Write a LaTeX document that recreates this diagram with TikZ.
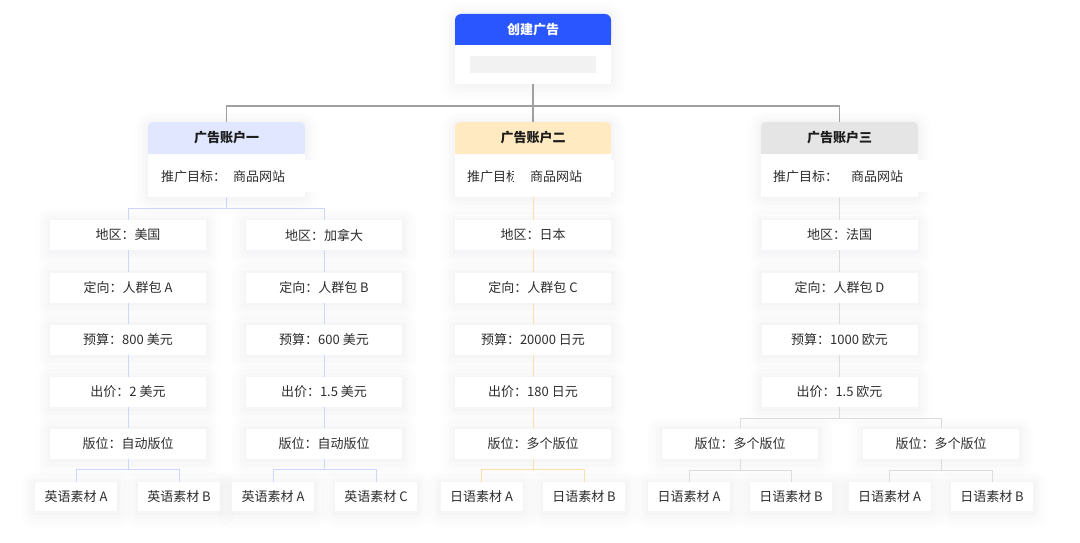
\documentclass[tikz,border=0pt]{standalone}
\usepackage{fontspec}
\setmainfont{Noto Sans CJK SC}
\definecolor{topblue}{RGB}{42,86,255}
\definecolor{hdA}{RGB}{224,231,255}
\definecolor{hdB}{RGB}{255,234,193}
\definecolor{hdC}{RGB}{229,229,229}
\definecolor{lnTop}{RGB}{160,160,160}
\definecolor{lnA}{RGB}{205,215,252}
\definecolor{lnB}{RGB}{252,224,172}
\definecolor{lnC}{RGB}{220,220,220}
\definecolor{txt}{RGB}{45,45,45}
\definecolor{hdtxt}{RGB}{28,28,28}
\definecolor{bar}{RGB}{242,242,242}
\definecolor{shd}{RGB}{40,40,90}
\begin{document}
\begin{tikzpicture}[x=1pt,y=-1pt,
  shad/.style={
    preaction={draw=shd, draw opacity=0.008, line width=28pt, line join=round, transform canvas={yshift=-3pt}},
    preaction={draw=shd, draw opacity=0.009, line width=20pt, line join=round, transform canvas={yshift=-2pt}},
    preaction={draw=shd, draw opacity=0.011, line width=12pt, line join=round, transform canvas={yshift=-2pt}},
    preaction={draw=shd, draw opacity=0.012, line width=5pt, line join=round, transform canvas={yshift=-1pt}}},
  card/.style={rectangle, fill=white, inner sep=0pt, minimum width=156pt, minimum height=30pt,
    font=\fontsize{13}{15}\selectfont, text=txt, shad},
  leaf/.style={card, minimum width=82pt, minimum height=29pt},
  hdr/.style={rectangle, inner sep=0pt, minimum width=157pt, minimum height=32pt, rounded corners=5pt,
    font=\fontsize{13}{15}\selectfont\bfseries, text=hdtxt},
  body/.style={rectangle, fill=white, inner sep=0pt, minimum width=157pt, minimum height=42pt},
  btxt/.style={anchor=west, inner sep=0pt, font=\fontsize{13}{15}\selectfont, text=txt},
  cardbg/.style={fill=white, rounded corners=5pt, shad},
  ltop/.style={draw=lnTop, line width=1.1pt},
  lA/.style={draw=lnA, line width=1pt},
  lB/.style={draw=lnB, line width=1pt},
  lC/.style={draw=lnC, line width=1pt}
]
\useasboundingbox[fill=white] (0,0) rectangle (1080,543);

% ---------- top card ----------
\path[cardbg, rounded corners=6pt] (455,14) rectangle (611,84);
\node[hdr, fill=topblue, text=white, minimum width=156pt, minimum height=31pt, rounded corners=6pt] (toph) at (533,29.5) {创建广告};
\fill[topblue] (toph.west) rectangle (toph.south east);
\node[hdr, fill=topblue, text=white, rounded corners=0pt, minimum height=0pt, minimum width=0pt] at (toph) {创建广告};
\node[body, minimum width=156pt, minimum height=39pt] (topb) at (533,64.5) {};
\node[rectangle, fill=bar, inner sep=0pt, minimum width=126pt, minimum height=17pt] (topbar) at (533,64.5) {};

% ---------- account cards ----------
% account 1
\path[cardbg] (148,122) rectangle (305,197);
\node[hdr, fill=hdA] (a1h) at (226.5,138) {广告账户一};
\fill[hdA] (a1h.west) rectangle (a1h.south east);
\node[hdr, fill=hdA, rounded corners=0pt, minimum height=0pt, minimum width=0pt] at (a1h) {广告账户一};
\node[body] (a1b) at (226.5,176) {};
\fill[white] (305,160) rectangle (318,192);
\node[btxt] (a1t) at (161,177) {推广目标：};
\node[btxt] (a1v) at (233,177) {商品网站};

% account 2
\path[cardbg] (455,122) rectangle (611,197);
\node[hdr, fill=hdB, minimum width=156pt] (a2h) at (533,138) {广告账户二};
\fill[hdB] (a2h.west) rectangle (a2h.south east);
\node[hdr, fill=hdB, rounded corners=0pt, minimum height=0pt, minimum width=0pt] at (a2h) {广告账户二};
\node[body, minimum width=156pt] (a2b) at (533,176) {};
\fill[white] (611,160) rectangle (614,192);
\begin{scope}
\clip (455,155) rectangle (513.5,197);
\node[btxt] (a2t) at (467,177) {推广目标：};
\end{scope}
\node[btxt] (a2v) at (530,177) {商品网站};

% account 3
\path[cardbg] (761,122) rectangle (918,197);
\node[hdr, fill=hdC] (a3h) at (839.5,138) {广告账户三};
\fill[hdC] (a3h.west) rectangle (a3h.south east);
\node[hdr, fill=hdC, rounded corners=0pt, minimum height=0pt, minimum width=0pt] at (a3h) {广告账户三};
\node[body] (a3b) at (839.5,176) {};
\fill[white] (918,160) rectangle (935,192);
\node[btxt] (a3t) at (773,177) {推广目标：};
\node[btxt] (a3v) at (851,177) {商品网站};

% ---------- level boxes ----------
% column 1
\node[card] (p1r1) at (128,235) {地区：美国};
\node[card] (p1r2) at (128,287.5) {定向：人群包 A};
\node[card] (p1r3) at (128,339.5) {预算：800 美元};
\node[card] (p1r4) at (128,392) {出价：2 美元};
\node[card] (p1r5) at (128,443.5) {版位：自动版位};
% column 2
\node[card] (p2r1) at (324,235) {地区：加拿大};
\node[card] (p2r2) at (324,287.5) {定向：人群包 B};
\node[card] (p2r3) at (324,339.5) {预算：600 美元};
\node[card] (p2r4) at (324,392) {出价：1.5 美元};
\node[card] (p2r5) at (324,443.5) {版位：自动版位};
% column 3
\node[card] (p3r1) at (533,235) {地区：日本};
\node[card] (p3r2) at (533,287.5) {定向：人群包 C};
\node[card] (p3r3) at (533,339.5) {预算：20000 日元};
\node[card] (p3r4) at (533,392) {出价：180 日元};
\node[card] (p3r5) at (533,443.5) {版位：多个版位};
% column 4
\node[card] (p4r1) at (839.5,235) {地区：法国};
\node[card] (p4r2) at (839.5,287.5) {定向：人群包 D};
\node[card] (p4r3) at (839.5,339.5) {预算：1000 欧元};
\node[card] (p4r4) at (839.5,392) {出价：1.5 欧元};
\node[card] (p4r5a) at (740,443.5) {版位：多个版位};
\node[card] (p4r5b) at (941,443.5) {版位：多个版位};

% ---------- leaves ----------
\node[leaf] (l1) at (76,496.5) {英语素材 A};
\node[leaf] (l2) at (179,496.5) {英语素材 B};
\node[leaf] (l3) at (273,496.5) {英语素材 A};
\node[leaf] (l4) at (376,496.5) {英语素材 C};
\node[leaf] (l5) at (481.5,496.5) {日语素材 A};
\node[leaf] (l6) at (584,496.5) {日语素材 B};
\node[leaf] (l7) at (689,496.5) {日语素材 A};
\node[leaf] (l8) at (791,496.5) {日语素材 B};
\node[leaf] (l9) at (889.5,496.5) {日语素材 A};
\node[leaf] (l10) at (992,496.5) {日语素材 B};

% ---------- connectors ----------
\coordinate (hub) at (533,106);
\draw[ltop] (topb.south) -- (hub);
\draw[ltop] (hub) -| (a1h.north);
\draw[ltop] (hub) -| (a3h.north);
\draw[ltop] (hub) -- (a2h.north);

% account 1
\coordinate (b1) at (226.5,208);
\draw[lA] (a1b.south) -- (b1);
\draw[lA] (b1) -| (p1r1.north);
\draw[lA] (b1) -| (p2r1.north);
\draw[lA] (p1r1) -- (p1r2) (p1r2) -- (p1r3) (p1r3) -- (p1r4) (p1r4) -- (p1r5);
\draw[lA] (p2r1) -- (p2r2) (p2r2) -- (p2r3) (p2r3) -- (p2r4) (p2r4) -- (p2r5);
\draw[lA] (p1r5.south) -- ++(0,11) -| (l1.north);
\draw[lA] (p1r5.south) ++(0,11) -| (l2.north);
\draw[lA] (p2r5.south) -- ++(0,11) -| (l3.north);
\draw[lA] (p2r5.south) ++(0,11) -| (l4.north);

% account 2
\draw[lB] (a2b.south) -- (p3r1.north);
\draw[lB] (p3r1) -- (p3r2) (p3r2) -- (p3r3) (p3r3) -- (p3r4) (p3r4) -- (p3r5);
\draw[lB] (p3r5.south) -- ++(0,11) -| (l5.north);
\draw[lB] (p3r5.south) ++(0,11) -| (l6.north);

% account 3
\draw[lC] (a3b.south) -- (p4r1.north);
\draw[lC] (p4r1) -- (p4r2) (p4r2) -- (p4r3) (p4r3) -- (p4r4);
\draw[lC] (p4r4.south) -- ++(0,11) -| (p4r5a.north);
\draw[lC] (p4r4.south) ++(0,11) -| (p4r5b.north);
\draw[lC] (p4r5a.south) -- ++(0,12) -| (l7.north);
\draw[lC] (p4r5a.south) ++(0,12) -| (l8.north);
\draw[lC] (p4r5b.south) -- ++(0,12) -| (l9.north);
\draw[lC] (p4r5b.south) ++(0,12) -| (l10.north);
\end{tikzpicture}
\end{document}
